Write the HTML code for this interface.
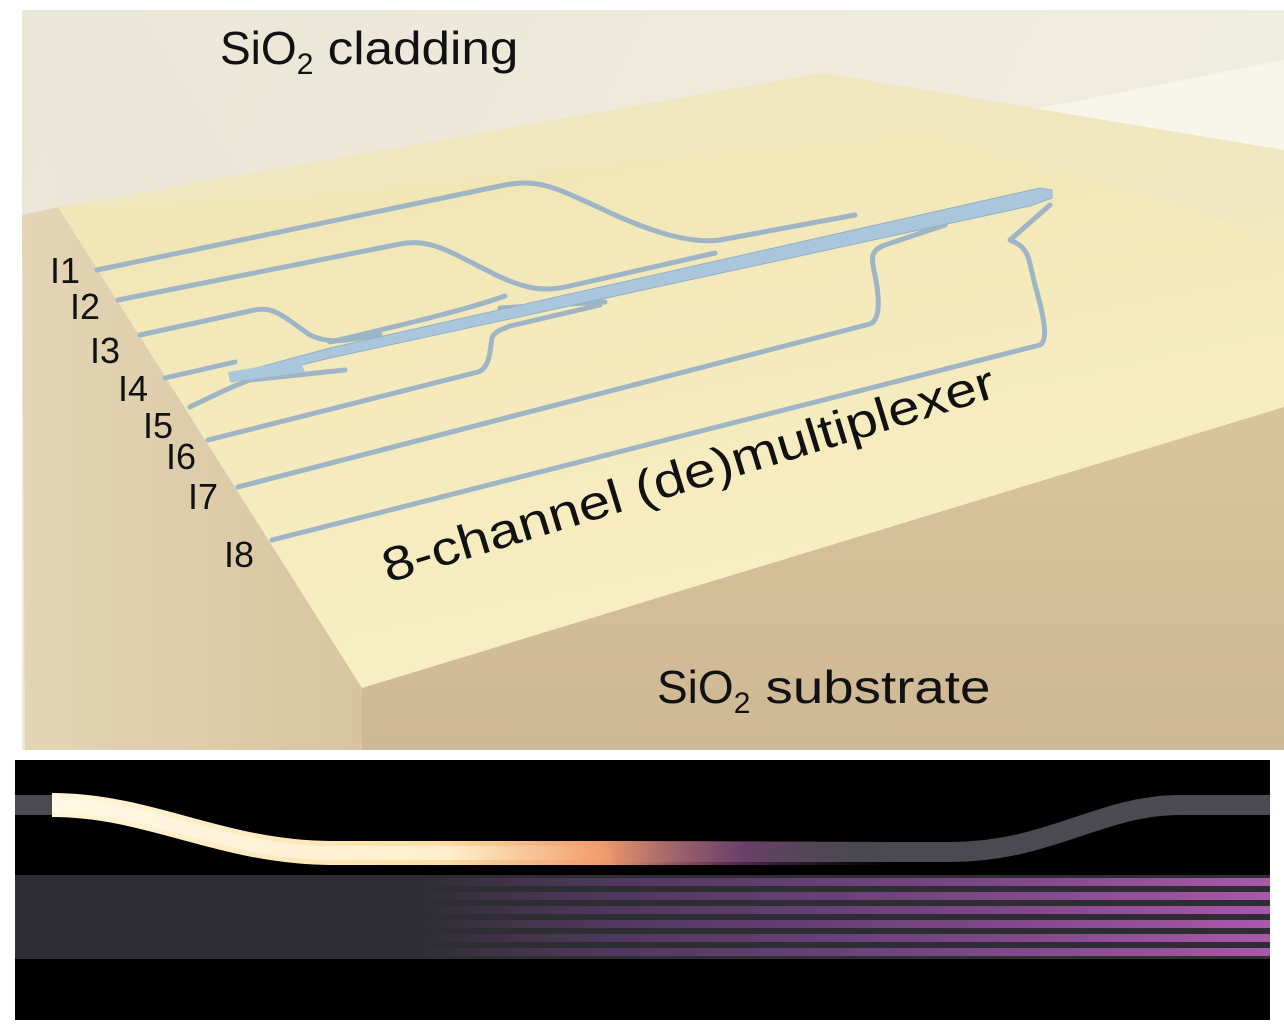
<!DOCTYPE html>
<html><head><meta charset="utf-8"><style>
html,body{margin:0;padding:0;background:#fff;width:1284px;height:1031px;overflow:hidden}
text{font-family:"Liberation Sans",sans-serif;fill:#111}
</style></head><body>
<svg width="1284" height="1031" viewBox="0 0 1284 1031" xmlns="http://www.w3.org/2000/svg">
<defs>
<linearGradient id="top" x1="0" y1="0" x2="0.4" y2="1">
<stop offset="0" stop-color="#efe3b2"/><stop offset="1" stop-color="#f8efc4"/></linearGradient>
<linearGradient id="front" x1="0" y1="0" x2="0" y2="1">
<stop offset="0" stop-color="#d9c49c"/><stop offset="1" stop-color="#cfb894"/></linearGradient>
<linearGradient id="left" x1="0" y1="0" x2="1" y2="0">
<stop offset="0" stop-color="#e4d5b6"/><stop offset="1" stop-color="#d8c5a0"/></linearGradient>
<linearGradient id="clad" x1="0" y1="0" x2="1" y2="0.3">
<stop offset="0" stop-color="#ebe6d6"/><stop offset="1" stop-color="#f1eee2"/></linearGradient>
<linearGradient id="glow" x1="0" y1="0" x2="1" y2="0">
<stop offset="0" stop-color="#fff6d8"/><stop offset="0.45" stop-color="#fde0a8"/><stop offset="0.65" stop-color="#f09a6a"/><stop offset="0.82" stop-color="#7a3a7a" stop-opacity="0.6"/><stop offset="1" stop-color="#444" stop-opacity="0"/></linearGradient>
<linearGradient id="core" x1="0" y1="0" x2="1" y2="0">
<stop offset="0" stop-color="#fff8e6"/><stop offset="0.7" stop-color="#fff0d0"/><stop offset="1" stop-color="#f5b080" stop-opacity="0"/></linearGradient>
<linearGradient id="purp" x1="0" y1="0" x2="1" y2="0">
<stop offset="0" stop-color="#b05ab8" stop-opacity="0"/><stop offset="0.25" stop-color="#8a4aa8" stop-opacity="0.4"/><stop offset="1" stop-color="#c060c0" stop-opacity="0.85"/></linearGradient>
</defs>
<rect x="22" y="10" width="1262" height="740" fill="url(#clad)"/>
<polygon points="930,130 1284,60 1284,300" fill="#f8f5ea"/>
<polygon points="22,10 140,10 260,200 58,207" fill="#eae6d8"/>
<polygon points="22,215 58,207 362,688 362,750 25,750" fill="url(#left)"/>
<polygon points="58,207 823,73 1284,150 1284,407 362,688" fill="url(#top)"/>
<polygon points="362,688 1284,407 1284,750 362,750" fill="url(#front)"/>
<polygon points="58,207 823,73 1284,150 1284,240 930,130 260,200" fill="#efe7c6" opacity="0.6"/>
<g fill="none" stroke="#9db5c4" stroke-width="5" stroke-linecap="round" stroke-linejoin="round">
<path d="M97,270 L505,185 C540,178 560,190 600,208 C650,232 690,244 720,240 L855,215"/>
<path d="M118,300 L400,244 C430,238 450,252 490,272 C525,290 545,292 570,286 L715,253"/>
<path d="M140,335 L255,310 C275,306 285,318 310,335 C330,345 350,340 380,334"/>
<path d="M330,342 C380,330 460,312 505,296"/>
<path d="M500,308 L605,302"/>
<path d="M165,378 L235,362"/>
<path d="M190,407 C215,395 235,385 250,380 L345,370"/>
<path d="M208,440 L478,372 C490,368 490,350 492,338 C494,332 500,330 510,326 L600,305"/>
<path d="M238,487 L870,324 C880,320 880,300 875,275 C870,255 872,250 885,245 L945,225"/>
<path d="M272,540 L1040,345 C1048,340 1045,320 1035,285 C1028,258 1030,248 1010,240 L1050,205"/>
</g>
<polygon points="230,375 330,348 1040,188 1052,190 1052,198 1030,206 330,358 232,382" fill="#a9c6dc" stroke="#93b0c4" stroke-width="1"/>
<polygon points="228,372 300,360 305,372 230,382" fill="#a9c6dc"/>
<g font-size="36">
<text x="50" y="283">I1</text><text x="70" y="319">I2</text><text x="90" y="363">I3</text>
<text x="118" y="401">I4</text><text x="143" y="438">I5</text><text x="166" y="469">I6</text>
<text x="188" y="509">I7</text><text x="224" y="567">I8</text>
</g>
<text x="220" y="64" font-size="46">SiO<tspan font-size="30" dy="10">2</tspan><tspan dy="-10" textLength="205" lengthAdjust="spacingAndGlyphs"> cladding</tspan></text>
<text x="657" y="703" font-size="46">SiO<tspan font-size="30" dy="10">2</tspan><tspan dy="-10" textLength="240" lengthAdjust="spacingAndGlyphs"> substrate</tspan></text>
<text x="388" y="583" font-size="48" transform="rotate(-17 388 583)" textLength="638" lengthAdjust="spacingAndGlyphs">8-channel (de)multiplexer</text>
<rect x="15" y="760" width="1255" height="260" fill="#000"/>
<path d="M15,805 L50,805 C150,805 220,850 330,852 L950,852 C1050,852 1100,805 1180,805 L1270,805" stroke="#4a4a50" stroke-width="20" fill="none"/>
<rect x="15" y="875" width="1255" height="84" fill="#2d2d33"/>
<g fill="url(#purp)">
<rect x="420" y="878" width="850" height="8"/><rect x="420" y="892" width="850" height="8"/>
<rect x="420" y="906" width="850" height="8"/><rect x="420" y="920" width="850" height="8"/>
<rect x="420" y="934" width="850" height="8"/><rect x="420" y="948" width="850" height="8"/>
</g>
<path d="M52,805 C150,805 220,852 330,853 L900,853" stroke="url(#glow)" stroke-width="24" fill="none"/>
<path d="M52,805 C150,805 220,852 330,853 L620,853" stroke="url(#core)" stroke-width="14" fill="none" opacity="0.9"/>
</svg>
</body></html>
